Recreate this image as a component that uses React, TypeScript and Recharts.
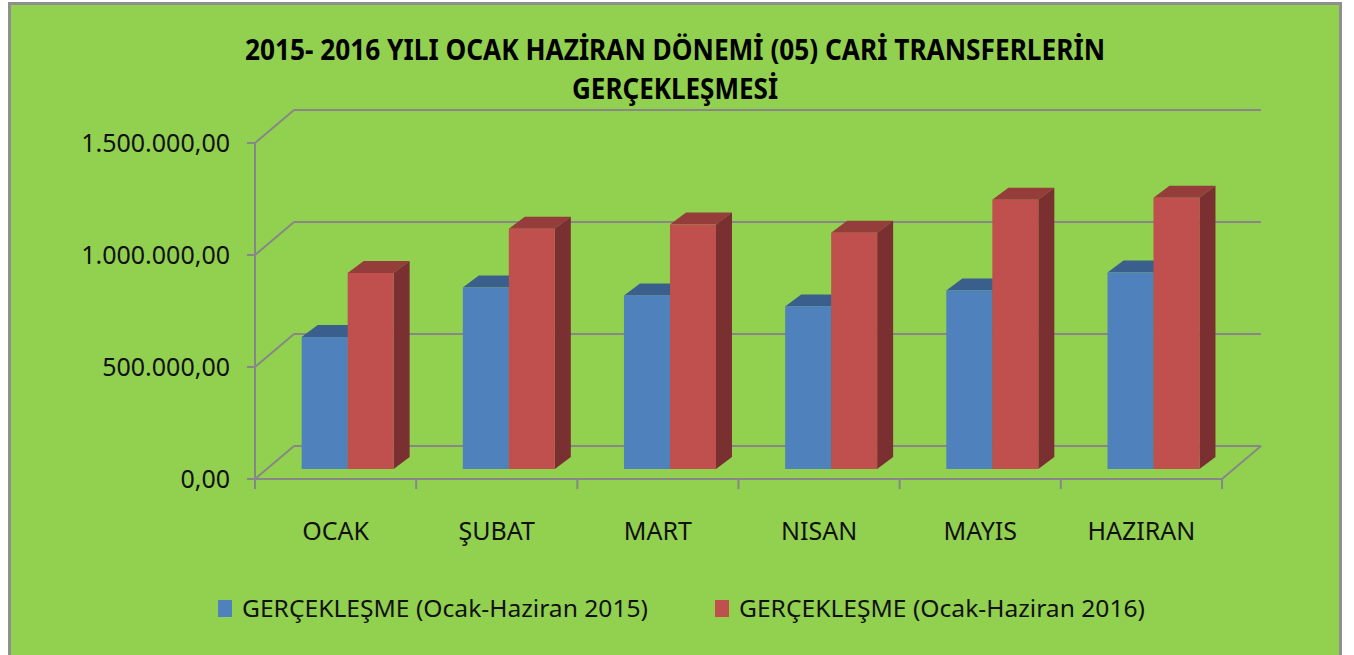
import React from 'react';
import { BarChart, Bar, XAxis, YAxis, CartesianGrid, Legend } from 'recharts';

const categories = ['OCAK', 'ŞUBAT', 'MART', 'NISAN', 'MAYIS', 'HAZIRAN'];
const values2015 = [589000, 810000, 775000, 726000, 797000, 877000];
const values2016 = [875000, 1073000, 1091000, 1055000, 1202000, 1211000];
const yTicks = [0, 500000, 1000000, 1500000];
const seriesNames = ['GERÇEKLEŞME (Ocak-Haziran 2015)', 'GERÇEKLEŞME (Ocak-Haziran 2016)'];
const titleLines = ['2015- 2016 YILI OCAK HAZİRAN DÖNEMİ (05) CARİ TRANSFERLERİN', 'GERÇEKLEŞMESİ'];

const data = categories.map((c, i) => ({ name: c, v2015: values2015[i], v2016: values2016[i] }));

const FONT = "'Noto Sans', 'Open Sans', sans-serif";
const LINE = '#878787';
const FRONT_DX = -12;
const FRONT_DY = 10;
const BACK_DX = 27;
const BACK_DY = -23;
const BAR_DX = 16;
const BAR_DY = -12;

const blue = { front: '#4F81BD', top: '#3A5F8C', side: '#2F4F78' };
const red = { front: '#C0504D', top: '#953D3A', side: '#7A3030' };

const fmt = (v: number) =>
  Math.round(v).toString().replace(/\B(?=(\d{3})+(?!\d))/g, '.') + ',00';

const makeShape = (c: { front: string; top: string; side: string }) => (props: any) => {
  const { x, y, width, height } = props;
  if (x == null || y == null || !width || height == null) return <g />;
  const x2 = x + width;
  const yb = y + height;
  return (
    <g>
      <polygon
        points={`${x},${y} ${x + BAR_DX},${y + BAR_DY} ${x2 + BAR_DX},${y + BAR_DY} ${x2},${y}`}
        fill={c.top}
      />
      <polygon
        points={`${x2},${y} ${x2 + BAR_DX},${y + BAR_DY} ${x2 + BAR_DX},${yb + BAR_DY} ${x2},${yb}`}
        fill={c.side}
      />
      <rect x={x} y={y} width={width} height={height} fill={c.front} />
    </g>
  );
};

const gridLine = (props: any) => {
  const { x1, y1, x2, key } = props;
  return (
    <g key={key}>
      <line x1={x1 + FRONT_DX} y1={y1 + FRONT_DY} x2={x1 + BACK_DX} y2={y1 + BACK_DY} stroke={LINE} strokeWidth={2} />
      <line x1={x1 + BACK_DX} y1={y1 + BACK_DY} x2={x2 + BACK_DX} y2={y1 + BACK_DY} stroke={LINE} strokeWidth={2} />
    </g>
  );
};

const XTick = (props: any) => {
  const { x, y, payload, index, width, visibleTicksCount } = props;
  const n = visibleTicksCount || categories.length;
  const band = (width || 967) / n;
  const fx = x + FRONT_DX;
  const fy = y + FRONT_DY;
  const l = fx - band / 2;
  const r = fx + band / 2;
  return (
    <g>
      <line x1={l} y1={fy} x2={r} y2={fy} stroke={LINE} strokeWidth={2} />
      <line x1={l} y1={fy} x2={l} y2={fy + 10} stroke={LINE} strokeWidth={2} />
      {index === n - 1 && (
        <>
          <line x1={r} y1={fy} x2={r} y2={fy + 10} stroke={LINE} strokeWidth={2} />
          <line x1={r} y1={fy} x2={r + (BACK_DX - FRONT_DX)} y2={fy + (BACK_DY - FRONT_DY)} stroke={LINE} strokeWidth={2} />
        </>
      )}
      <text x={fx} y={fy + 61} textAnchor="middle" fontFamily={FONT} fontSize={25} fill="#111">
        {payload.value}
      </text>
    </g>
  );
};

const YTick = (props: any) => {
  const { x, y, payload, height } = props;
  const fx = x + FRONT_DX;
  const fy = y + FRONT_DY;
  const h = height || 336;
  return (
    <g>
      <line x1={fx - 8} y1={fy} x2={fx} y2={fy} stroke={LINE} strokeWidth={2} />
      {payload.value === 0 && <line x1={fx} y1={fy + 10} x2={fx} y2={fy - h} stroke={LINE} strokeWidth={2} />}
      <text x={fx - 25} y={fy + 9} textAnchor="end" fontFamily={FONT} fontSize={25} fill="#111">
        {fmt(payload.value)}
      </text>
    </g>
  );
};

const legendPos = [
  { sq: 218, tx: 242, len: 406 },
  { sq: 715, tx: 739, len: 406 },
];

const renderLegend = (props: any) => {
  const payload = props.payload || [];
  return (
    <svg width={1354} height={45} style={{ display: 'block' }}>
      {payload.map((p: any, i: number) => (
        <g key={i}>
          <rect x={legendPos[i].sq} y={15} width={14} height={17} fill={p.color} />
          <text
            x={legendPos[i].tx}
            y={32}
            fontFamily={FONT}
            fontSize={24}
            fill="#111"
            textLength={legendPos[i].len}
            lengthAdjust="spacingAndGlyphs"
          >
            {p.value}
          </text>
        </g>
      ))}
    </svg>
  );
};

export default function App() {
  return (
    <div style={{ position: 'absolute', left: 0, top: 0, width: 1354, height: 655, background: '#fff', overflow: 'hidden' }}>
      <div
        style={{
          position: 'absolute',
          left: 8,
          top: 2,
          width: 1334,
          height: 670,
          boxSizing: 'border-box',
          border: '3px solid #8f8f8f',
          background: '#92D050',
        }}
      />
      <div style={{ position: 'absolute', left: 0, top: 0 }}>
        <BarChart
          width={1354}
          height={655}
          data={data}
          margin={{ top: 133, right: 120, bottom: 126, left: 207 }}
          barCategoryGap="21.5%"
          barGap={0}
        >
          <CartesianGrid vertical={false} horizontal={gridLine} />
          <XAxis
            dataKey="name"
            height={60}
            axisLine={false}
            tickLine={false}
            tickSize={0}
            tickMargin={0}
            interval={0}
            tick={XTick}
          />
          <YAxis
            width={60}
            domain={[0, 1500000]}
            ticks={yTicks}
            interval={0}
            axisLine={false}
            tickLine={false}
            tickSize={0}
            tickMargin={0}
            tick={YTick}
          />
          <Legend
            layout="horizontal"
            verticalAlign="middle"
            align="center"
            wrapperStyle={{ top: 585, left: 0, width: 1354, height: 45 }}
            content={renderLegend}
          />
          <Bar dataKey="v2015" name={seriesNames[0]} fill={blue.front} shape={makeShape(blue)} isAnimationActive={false} />
          <Bar dataKey="v2016" name={seriesNames[1]} fill={red.front} shape={makeShape(red)} isAnimationActive={false} />
        </BarChart>
      </div>
      <svg width={1354} height={120} style={{ position: 'absolute', left: 0, top: 0, pointerEvents: 'none' }}>
        <text x={675} y={60} textAnchor="middle" fontFamily={FONT} fontWeight={700} fontSize={28} fill="#000"
          textLength={860} lengthAdjust="spacingAndGlyphs">
          {titleLines[0]}
        </text>
        <text x={675} y={99} textAnchor="middle" fontFamily={FONT} fontWeight={700} fontSize={28} fill="#000"
          textLength={206} lengthAdjust="spacingAndGlyphs">
          {titleLines[1]}
        </text>
      </svg>
    </div>
  );
}
